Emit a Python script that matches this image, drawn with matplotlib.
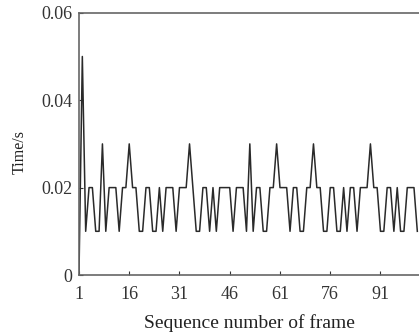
import matplotlib
matplotlib.use("Agg")
import matplotlib.pyplot as plt
import numpy as np

time_s = [0.0, 0.05, 0.01, 0.02, 0.02, 0.01, 0.01, 0.03, 0.01, 0.02,
          0.02, 0.02, 0.01, 0.02, 0.02, 0.03, 0.02, 0.02, 0.01, 0.01,
          0.02, 0.02, 0.01, 0.01, 0.02, 0.01, 0.02, 0.02, 0.02, 0.01,
          0.02, 0.02, 0.02, 0.03, 0.02, 0.01, 0.01, 0.02, 0.02, 0.01,
          0.02, 0.01, 0.02, 0.02, 0.02, 0.02, 0.01, 0.02, 0.02, 0.02,
          0.01, 0.03, 0.01, 0.02, 0.02, 0.01, 0.01, 0.02, 0.02, 0.03,
          0.02, 0.02, 0.02, 0.01, 0.02, 0.02, 0.01, 0.01, 0.02, 0.02,
          0.03, 0.02, 0.02, 0.01, 0.01, 0.02, 0.02, 0.01, 0.01, 0.02,
          0.01, 0.02, 0.02, 0.01, 0.02, 0.02, 0.02, 0.03, 0.02, 0.02,
          0.01, 0.01, 0.02, 0.02, 0.01, 0.02, 0.01, 0.01, 0.02, 0.02,
          0.02, 0.01]
frames = list(range(1, len(time_s) + 1))
x_ticks = [1, 16, 31, 46, 61, 76, 91]
y_ticks = [0, 0.02, 0.04, 0.06]
y_tick_labels = ["0", "0.02", "0.04", "0.06"]

plt.rcParams['font.family'] = ['Liberation Serif', 'DejaVu Serif']

fig = plt.figure(figsize=(4.19, 3.36), dpi=100)
ax = fig.add_axes([0.1885, 0.1815, 0.8115, 0.7805])
ax.plot(frames, time_s, color='#2a2a2a', lw=1.1)

ax.set_xlim(1, 102.5)
ax.set_ylim(0, 0.06)
ax.set_xticks(x_ticks)
ax.set_xticklabels([str(t) for t in x_ticks])
ax.set_yticks(y_ticks)
ax.set_yticklabels(y_tick_labels)
ax.tick_params(direction='in', length=3, width=0.8, labelsize=13, colors='#333333')
ax.tick_params(axis='x', pad=8)
ax.tick_params(axis='y', pad=5)
for s in ['left', 'bottom', 'top']:
    ax.spines[s].set_color('#666666')
    ax.spines[s].set_linewidth(1.2)
ax.spines['right'].set_visible(False)

ax.set_xlabel('Sequence number of frame', fontsize=14, color='#222222', labelpad=8)
ax.set_ylabel('Time/s', fontsize=11.5, color='#222222')
ax.yaxis.set_label_coords(-0.15, 0.47)

fig.savefig('out.png', dpi=100)
